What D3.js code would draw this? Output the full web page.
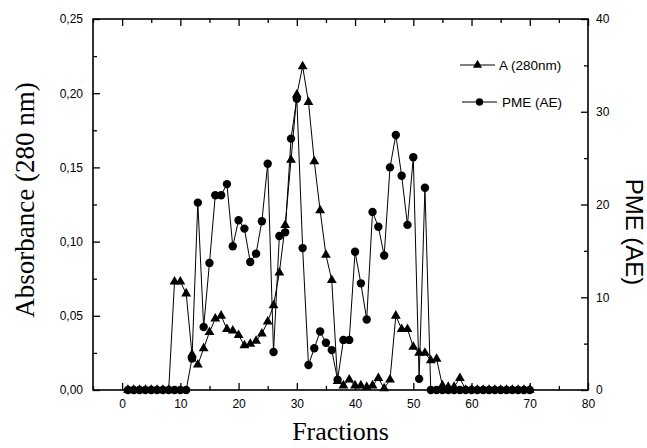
<!DOCTYPE html>
<html>
<head>
<meta charset="utf-8">
<script src="https://cdn.jsdelivr.net/npm/d3@7"></script>
<style>
  body { margin: 0; background: #fff; }
  svg { display: block; }
</style>
</head>
<body>
<div id="chart"></div>
<script>
// fraction numbers
const fractions = [1, 2, 3, 4, 5, 6, 7, 8, 9, 10, 11, 12, 13, 14, 15, 16, 17, 18, 19, 20,
  21, 22, 23, 24, 25, 26, 27, 28, 29, 30, 31, 32, 33, 34, 35, 36, 37, 38, 39, 40,
  41, 42, 43, 44, 45, 46, 47, 48, 49, 50, 51, 52, 53, 54, 55, 56, 57, 58, 59, 60,
  61, 62, 63, 64, 65, 66, 67, 68, 69, 70];

// A (280nm), left axis
const absorbance = [0, 0, 0, 0, 0, 0, 0, 0, 0.073, 0.073, 0.065, 0.024, 0.017, 0.028, 0.039, 0.048, 0.050, 0.041, 0.040, 0.037,
  0.030, 0.031, 0.033, 0.038, 0.046, 0.057, 0.079, 0.111, 0.155, 0.199, 0.218, 0.194, 0.154, 0.121, 0.091, 0.074, 0.006, 0.003, 0.007, 0.003,
  0.003, 0.002, 0.003, 0.008, 0.001, 0.007, 0.050, 0.041, 0.041, 0.029, 0.025, 0.025, 0.020, 0.021, 0.003, 0.002, 0.002, 0.008, 0, 0,
  0, 0, 0, 0, 0, 0, 0, 0, 0, 0];

// PME (AE), right axis
const pme = [0, 0, 0, 0, 0, 0, 0, 0, 0, 0, 0, 3.4, 20.2, 6.8, 13.7, 21.0, 21.0, 22.2, 15.5, 18.3,
  17.4, 13.8, 14.7, 18.2, 24.4, 4.1, 16.6, 17.0, 27.1, 31.4, 15.3, 2.7, 4.5, 6.3, 5.1, 4.3, 1.1, 5.4, 5.4, 14.9,
  11.5, 7.6, 19.2, 17.6, 14.5, 24.0, 27.5, 23.1, 17.8, 25.1, 1.2, 21.8, 0, 0, 0, 0, 0, 0, 0, 0,
  0, 0, 0, 0, 0, 0, 0, 0, 0, 0];

const xTicks = [0, 10, 20, 30, 40, 50, 60, 70, 80];
const xMinor = [-5, 5, 15, 25, 35, 45, 55, 65, 75];
const yLeftTicks = [0, 0.05, 0.10, 0.15, 0.20, 0.25];
const yLeftMinor = [0.025, 0.075, 0.125, 0.175, 0.225];
const yRightTicks = [0, 10, 20, 30, 40];
const yRightMinor = [5, 15, 25, 35];

function init() {
  const width = 647, height = 448;
  const margin = {top: 19, right: 59, bottom: 58, left: 93};
  const w = width - margin.left - margin.right,
        h = height - margin.top - margin.bottom;

  const svg = d3.select("#chart").append("svg")
    .attr("width", width)
    .attr("height", height);

  const g = svg.append("g")
    .attr("transform", `translate(${margin.left},${margin.top})`);

  const x = d3.scaleLinear().domain([-5, 80]).range([0, w]);
  const yL = d3.scaleLinear().domain([0, 0.25]).range([h, 0]);
  const yR = d3.scaleLinear().domain([0, 40]).range([h, 0]);

  // comma decimal
  const loc = d3.formatLocale({decimal: ",", thousands: ".", grouping: [3], currency: ["", ""]});
  const fmtL = loc.format(".2f");

  const tickFont = "Liberation Sans, Arial, sans-serif";

  // axes, ticks pointing inward
  g.append("g").attr("transform", `translate(0,${h})`)
    .call(d3.axisBottom(x).tickValues(xTicks).tickSize(-7).tickSizeOuter(0).tickPadding(9));
  g.append("g").attr("transform", `translate(0,${h})`)
    .call(d3.axisBottom(x).tickValues(xMinor).tickSize(-4).tickSizeOuter(0).tickFormat(""));
  g.append("g")
    .call(d3.axisTop(x).tickValues(xTicks).tickSize(-7).tickSizeOuter(0).tickFormat(""));
  g.append("g")
    .call(d3.axisTop(x).tickValues(xMinor).tickSize(-4).tickSizeOuter(0).tickFormat(""));

  g.append("g")
    .call(d3.axisLeft(yL).tickValues(yLeftTicks).tickSize(-7).tickSizeOuter(0).tickPadding(10).tickFormat(fmtL));
  g.append("g")
    .call(d3.axisLeft(yL).tickValues(yLeftMinor).tickSize(-4).tickSizeOuter(0).tickFormat(""));

  g.append("g").attr("transform", `translate(${w},0)`)
    .call(d3.axisRight(yR).tickValues(yRightTicks).tickSize(-7).tickSizeOuter(0).tickPadding(8));
  g.append("g").attr("transform", `translate(${w},0)`)
    .call(d3.axisRight(yR).tickValues(yRightMinor).tickSize(-4).tickSizeOuter(0).tickFormat(""));

  g.selectAll(".domain").remove();
  g.selectAll(".tick line").attr("stroke", "#000").attr("stroke-width", 1.3);
  g.selectAll(".tick text")
    .attr("fill", "#000")
    .style("font-family", tickFont)
    .style("font-size", "12px");

  // frame
  g.append("rect")
    .attr("width", w).attr("height", h)
    .attr("fill", "none")
    .attr("stroke", "#000")
    .attr("stroke-width", 1.6);

  // series
  const dataA = fractions.map((f, i) => ({f: f, v: absorbance[i]}));
  const dataP = fractions.map((f, i) => ({f: f, v: pme[i]}));

  g.append("path")
    .datum(dataP)
    .attr("fill", "none")
    .attr("stroke", "#000")
    .attr("stroke-width", 1)
    .attr("d", d3.line().x(d => x(d.f)).y(d => yR(d.v)));

  g.append("path")
    .datum(dataA)
    .attr("fill", "none")
    .attr("stroke", "#000")
    .attr("stroke-width", 1)
    .attr("d", d3.line().x(d => x(d.f)).y(d => yL(d.v)));

  g.selectAll(".pt-p")
    .data(dataP)
    .join("circle")
    .attr("class", "pt-p")
    .attr("cx", d => x(d.f))
    .attr("cy", d => yR(d.v))
    .attr("r", 4.2)
    .attr("fill", "#000");

  const tri = d3.symbol().type(d3.symbolTriangle).size(42);
  g.selectAll(".pt-a")
    .data(dataA)
    .join("path")
    .attr("class", "pt-a")
    .attr("d", tri)
    .attr("transform", d => `translate(${x(d.f)},${yL(d.v)})`)
    .attr("fill", "#000");

  // legend
  const legend = svg.append("g");
  const rows = [
    {label: "A (280nm)", y: 65, x0: 460, x1: 495, tx: 499, kind: "tri"},
    {label: "PME (AE)", y: 102, x0: 462, x1: 497, tx: 502, kind: "circ"}
  ];
  rows.forEach(r => {
    legend.append("line")
      .attr("x1", r.x0).attr("x2", r.x1)
      .attr("y1", r.y).attr("y2", r.y)
      .attr("stroke", "#000").attr("stroke-width", 1);
    if (r.kind === "tri") {
      legend.append("path")
        .attr("d", d3.symbol().type(d3.symbolTriangle).size(36)())
        .attr("transform", `translate(${(r.x0 + r.x1) / 2},${r.y})`)
        .attr("fill", "#000");
    } else {
      legend.append("circle")
        .attr("cx", (r.x0 + r.x1) / 2).attr("cy", r.y)
        .attr("r", 3.7).attr("fill", "#000");
    }
    legend.append("text")
      .attr("x", r.tx).attr("y", r.y)
      .attr("dy", "0.35em")
      .style("font-family", tickFont)
      .style("font-size", "13.5px")
      .text(r.label);
  });

  // axis titles
  svg.append("text")
    .attr("transform", `translate(${margin.left + x(37.5)},440)`)
    .attr("text-anchor", "middle")
    .style("font-family", "Liberation Serif, Times New Roman, serif")
    .style("font-size", "26px")
    .text("Fractions");

  svg.append("text")
    .attr("transform", "translate(34,200) rotate(-90)")
    .attr("text-anchor", "middle")
    .style("font-family", "Liberation Serif, Times New Roman, serif")
    .style("font-size", "27px")
    .text("Absorbance (280 nm)");

  svg.append("text")
    .attr("transform", "translate(626,232) rotate(90)")
    .attr("text-anchor", "middle")
    .style("font-family", tickFont)
    .style("font-size", "24px")
    .text("PME (AE)");
}

window.onload = init;
</script>
</body>
</html>
